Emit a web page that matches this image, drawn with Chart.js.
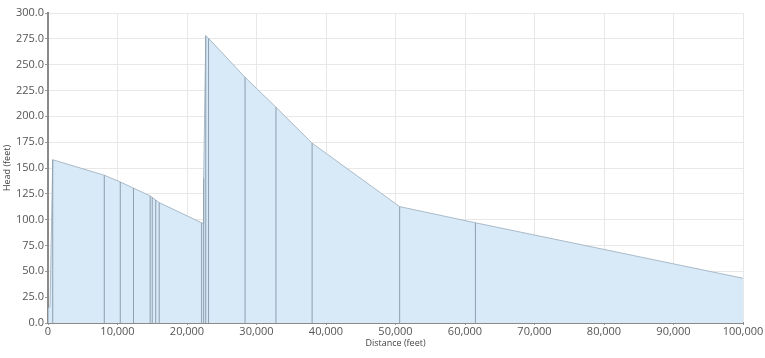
<!DOCTYPE html>
<html>
<head>
<meta charset="utf-8">
<script src="https://cdn.jsdelivr.net/npm/chart.js@4"></script>
<style>
html,body{margin:0;padding:0;background:#fff;}
#wrap{width:765px;height:358px;position:relative;}
</style>
</head>
<body>
<div id="wrap"><canvas id="c" width="765" height="358"></canvas></div>
<script>
// Hydraulic grade profile
const profileDistance = [0, 290, 680, 8100, 10400, 12300, 14700, 15000, 15500, 16000, 22100, 22400, 22400, 22700, 23100, 28350, 32800, 38000, 50600, 61500, 100000];
const profileHead     = [14, 15.8, 158, 143, 136.5, 130.5, 123, 121.5, 119, 116.5, 97, 96, 140, 278, 275.5, 237.8, 208.8, 174, 112.6, 97, 43.3];

// Node positions (vertical markers)
const nodeDistance = [0, 680, 8100, 10400, 12300, 14700, 15000, 15500, 16000, 22100, 22400, 22700, 23100, 28350, 32800, 38000, 50600, 61500];
const nodeHead     = [14, 158, 143, 136.5, 130.5, 123, 121.5, 119, 116.5, 97, 140, 278, 275.5, 237.8, 208.8, 174, 112.6, 97];

const xTicks = [0, 10000, 20000, 30000, 40000, 50000, 60000, 70000, 80000, 90000, 100000];
const yTicks = [0, 25, 50, 75, 100, 125, 150, 175, 200, 225, 250, 275, 300];

const profileData = profileDistance.map((d, i) => ({x: d, y: profileHead[i]}));
const nodeData = [];
nodeDistance.forEach((d, i) => {
  nodeData.push({x: d, y: 0});
  nodeData.push({x: d, y: nodeHead[i]});
  nodeData.push({x: d, y: null});
});

const font = "'Open Sans', 'Noto Sans', sans-serif";

new Chart(document.getElementById('c'), {
  type: 'line',
  data: {
    datasets: [
      {
        data: nodeData,
        borderColor: '#8e9fae',
        borderWidth: 1,
        pointRadius: 0,
        fill: false,
        spanGaps: false,
        tension: 0
      },
      {
        data: profileData,
        borderColor: '#a9bac8',
        backgroundColor: '#d8e9f8',
        borderWidth: 1,
        pointRadius: 0,
        fill: 'origin',
        tension: 0
      }
    ]
  },
  options: {
    responsive: false,
    animation: false,
    devicePixelRatio: 1,
    layout: {padding: {top: 13, right: 22, left: 0, bottom: 9}},
    plugins: {legend: {display: false}, tooltip: {enabled: false}},
    scales: {
      x: {
        type: 'linear',
        min: 0, max: 100000,
        afterBuildTicks: (s) => { s.ticks = xTicks.map(v => ({value: v})); },
        afterFit: (s) => { s.height = 26; },
        grid: {color: '#e8e8e8', tickLength: 2, tickColor: '#999'},
        border: {color: '#8a8a8a', width: 2},
        ticks: {
          color: '#555', padding: 0, maxRotation: 0,
          font: {family: font, size: 11},
          callback: (v) => v.toLocaleString('en-US')
        },
        title: {display: true, text: 'Distance (feet)', color: '#444', font: {family: font, size: 9}, padding: {top: 0, bottom: 0}}
      },
      y: {
        type: 'linear',
        min: 0, max: 300,
        afterBuildTicks: (s) => { s.ticks = yTicks.map(v => ({value: v})); },
        afterFit: (s) => { s.width = 48; },
        grid: {color: '#e8e8e8', tickLength: 3, tickColor: '#999'},
        border: {color: '#8a8a8a', width: 2},
        ticks: {
          color: '#555', padding: 1,
          font: {family: font, size: 11},
          callback: (v) => v.toFixed(1)
        },
        title: {display: true, text: 'Head (feet)', color: '#444', font: {family: font, size: 9}, padding: {top: 2, bottom: 0}}
      }
    }
  }
});
</script>
</body>
</html>
